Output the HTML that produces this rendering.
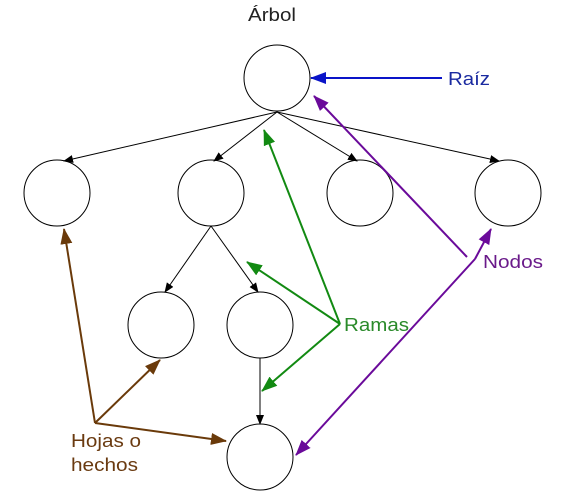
<!DOCTYPE html>
<html><head><style>
html,body{margin:0;padding:0;background:#fff;width:565px;height:498px;overflow:hidden}
text{font-family:"Liberation Sans",sans-serif;font-size:18px}
</style></head><body>
<svg width="565" height="498" viewBox="0 0 565 498" xmlns="http://www.w3.org/2000/svg">
<defs>
<marker id="k" markerWidth="10" markerHeight="8" refX="9" refY="4" orient="auto" markerUnits="userSpaceOnUse"><path d="M0,0L10,4L0,8z" fill="#000"/></marker>
<marker id="b" markerWidth="16" markerHeight="12" refX="15" refY="6" orient="auto" markerUnits="userSpaceOnUse"><path d="M0,0L16,6L0,12z" fill="#0a14c8"/></marker>
<marker id="p" markerWidth="16" markerHeight="12" refX="15" refY="6" orient="auto" markerUnits="userSpaceOnUse"><path d="M0,0L16,6L0,12z" fill="#6a0a9a"/></marker>
<marker id="g" markerWidth="16" markerHeight="12" refX="15" refY="6" orient="auto" markerUnits="userSpaceOnUse"><path d="M0,0L16,6L0,12z" fill="#128a12"/></marker>
<marker id="r" markerWidth="16" markerHeight="12" refX="15" refY="6" orient="auto" markerUnits="userSpaceOnUse"><path d="M0,0L16,6L0,12z" fill="#6a3a0a"/></marker>
</defs>
<text x="248" y="21" textLength="48" lengthAdjust="spacingAndGlyphs" fill="#222">Árbol</text>
<g fill="#fff" stroke="#000" stroke-width="1">
<ellipse cx="277" cy="78" rx="33" ry="33"/>
<ellipse cx="57" cy="193" rx="33" ry="33"/>
<ellipse cx="211" cy="193" rx="33" ry="33"/>
<ellipse cx="360" cy="193" rx="33" ry="33"/>
<ellipse cx="508" cy="193" rx="33" ry="33"/>
<ellipse cx="161" cy="325" rx="33" ry="33"/>
<ellipse cx="260" cy="325" rx="33" ry="33"/>
<ellipse cx="260" cy="457" rx="33" ry="33"/>
</g>
<g stroke="#000" stroke-width="1" marker-end="url(#k)">
<line x1="277" y1="112" x2="64" y2="161"/>
<line x1="277" y1="112" x2="214" y2="161"/>
<line x1="277" y1="112" x2="357" y2="161"/>
<line x1="277" y1="112" x2="499" y2="161"/>
<line x1="211" y1="226" x2="165" y2="292"/>
<line x1="211" y1="226" x2="258" y2="292"/>
<line x1="260" y1="358" x2="260" y2="424"/>
</g>
<line x1="442" y1="78" x2="311" y2="78" stroke="#0a14c8" stroke-width="2" marker-end="url(#b)"/>
<text x="448" y="85" textLength="42" lengthAdjust="spacingAndGlyphs" fill="#1a2aa0">Raíz</text>
<g stroke="#6a0a9a" stroke-width="2" marker-end="url(#p)">
<line x1="467" y1="257" x2="314" y2="96"/>
<line x1="475" y1="259" x2="491" y2="229"/>
<line x1="475" y1="259" x2="296" y2="455"/>
</g>
<text x="483" y="268" textLength="60" lengthAdjust="spacingAndGlyphs" fill="#6a1a8a">Nodos</text>
<g stroke="#128a12" stroke-width="2" marker-end="url(#g)">
<line x1="340" y1="324" x2="264" y2="130"/>
<line x1="340" y1="324" x2="247" y2="262"/>
<line x1="340" y1="324" x2="262" y2="391"/>
</g>
<text x="344" y="331" textLength="65" lengthAdjust="spacingAndGlyphs" fill="#2a8a2a">Ramas</text>
<g stroke="#6a3a0a" stroke-width="2" marker-end="url(#r)">
<line x1="95" y1="423" x2="64" y2="229"/>
<line x1="95" y1="423" x2="160" y2="360"/>
<line x1="95" y1="423" x2="226" y2="441"/>
</g>
<text x="71" y="447" textLength="70" lengthAdjust="spacingAndGlyphs" fill="#6a3a10">Hojas o</text>
<text x="71" y="471" textLength="67" lengthAdjust="spacingAndGlyphs" fill="#6a3a10">hechos</text>
</svg>
</body></html>
